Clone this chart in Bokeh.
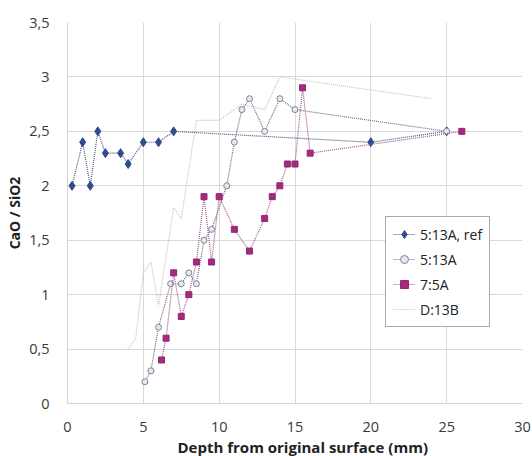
from bokeh.plotting import figure
from bokeh.models import (Range1d, FixedTicker, CustomJSTickFormatter, Legend,
                          LegendItem, Title)
from bokeh.embed import file_html
from bokeh.resources import INLINE

# CaO / SiO2 ratio versus depth from the original surface (mm)
ref_x = [0.3, 1, 1.5, 2, 2.5, 3.5, 4, 5, 6, 7, 20, 25]
ref_y = [2.0, 2.4, 2.0, 2.5, 2.3, 2.3, 2.2, 2.4, 2.4, 2.5, 2.4, 2.5]

a513_x = [5.1, 5.5, 6, 6.8, 7.5, 8, 8.5, 9, 9.5, 10.5, 11, 11.5, 12, 13, 14, 15, 25]
a513_y = [0.2, 0.3, 0.7, 1.1, 1.1, 1.2, 1.1, 1.5, 1.6, 2.0, 2.4, 2.7, 2.8, 2.5, 2.8, 2.7, 2.5]

a75_x = [6.2, 6.5, 7, 7.5, 8, 8.5, 9, 9.5, 10, 11, 12, 13, 13.5, 14, 14.5, 15, 15.5, 16, 26]
a75_y = [0.4, 0.6, 1.2, 0.8, 1.0, 1.3, 1.9, 1.3, 1.9, 1.6, 1.4, 1.7, 1.9, 2.0, 2.2, 2.2, 2.9, 2.3, 2.5]

d13b_x = [4, 4.5, 5, 5.5, 6, 7, 7.5, 8.5, 10, 11.5, 13, 14, 24]
d13b_y = [0.5, 0.6, 1.2, 1.3, 0.9, 1.8, 1.7, 2.6, 2.6, 2.75, 2.7, 3.0, 2.8]

x_ticks = [0, 5, 10, 15, 20, 25, 30]
y_ticks = [0, 0.5, 1, 1.5, 2, 2.5, 3, 3.5]

FONT = "Open Sans"

p = figure(frame_width=455, frame_height=381,
           min_border_left=67, min_border_right=10,
           min_border_top=22, min_border_bottom=53,
           x_range=Range1d(0, 30), y_range=Range1d(0, 3.5),
           output_backend="svg", toolbar_location=None)
p.outline_line_color = None
p.background_fill_color = "white"
p.border_fill_color = "white"

comma = CustomJSTickFormatter(code="return tick.toString().replace('.', ',');")
for ax, ticks in ((p.xaxis[0], x_ticks), (p.yaxis[0], y_ticks)):
    ax.ticker = FixedTicker(ticks=ticks)
    ax.formatter = comma
    ax.major_tick_line_color = None
    ax.minor_tick_line_color = None
    ax.axis_line_color = "#d4d4d4"
    ax.major_label_text_font = FONT
    ax.major_label_text_font_size = "14.5px"
    ax.major_label_text_color = "#3a3a3a"
    ax.major_label_standoff = 12

p.yaxis.axis_label = "CaO / SiO2"
p.yaxis.axis_label_text_font = FONT
p.yaxis.axis_label_text_font_style = "bold"
p.yaxis.axis_label_text_font_size = "14px"
p.yaxis.axis_label_text_color = "#222222"
p.yaxis.axis_label_standoff = 2

p.xgrid.ticker = FixedTicker(ticks=x_ticks)
p.ygrid.ticker = FixedTicker(ticks=y_ticks)
p.grid.grid_line_color = "#d9d9d9"
p.grid.grid_line_width = 1

xtitle = Title(text="Depth from original surface (mm)", align="left", offset=110,
               text_font=FONT, text_font_style="bold", text_font_size="15px",
               text_color="#222222", standoff=0)
p.add_layout(xtitle, "below")

DASH = "1 1"

d_line = p.line(d13b_x, d13b_y, line_color="#c4c4c4", line_width=1.2, line_dash=DASH)

ref_line = p.line(ref_x, ref_y, line_color="#4a5a7a", line_width=1.2, line_dash=DASH)
ref_pts = p.scatter(ref_x, ref_y, marker="diamond", size=9,
                    fill_color="#2f4d8c", line_color="#2f4d8c")

a_line = p.line(a513_x, a513_y, line_color="#6e6e6e", line_width=1.2, line_dash=DASH)
a_pts = p.scatter(a513_x, a513_y, marker="circle", size=6,
                  fill_color="#e4e8f0", line_color="#7f8796", line_width=1)

b_line = p.line(a75_x, a75_y, line_color="#a0578b", line_width=1.2, line_dash=DASH)
b_pts = p.scatter(a75_x, a75_y, marker="square", size=6,
                  fill_color="#a52a7f", line_color="#8e2a6e")

legend = Legend(items=[
    LegendItem(label="5:13A, ref", renderers=[ref_line, ref_pts]),
    LegendItem(label="5:13A", renderers=[a_line, a_pts]),
    LegendItem(label="7:5A", renderers=[b_line, b_pts]),
    LegendItem(label="D:13B", renderers=[d_line]),
], location=(318, 76))
legend.label_text_font = FONT
legend.label_text_font_size = "14px"
legend.label_text_color = "#222222"
legend.border_line_color = "#555555"
legend.border_line_width = 1
legend.background_fill_color = "white"
legend.background_fill_alpha = 1
legend.glyph_width = 22
legend.glyph_height = 20
legend.label_height = 20
legend.spacing = 5
legend.padding = 7
legend.margin = 0
legend.label_standoff = 5
p.add_layout(legend, "center")

open("out.html", "w").write(file_html(p, INLINE))
